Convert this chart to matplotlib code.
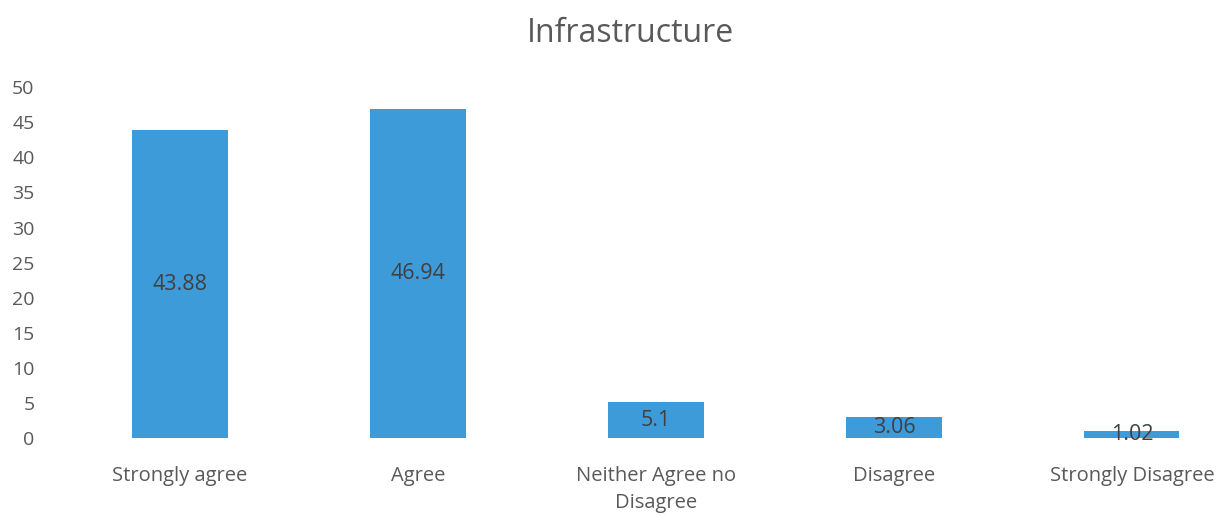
import matplotlib
matplotlib.use('Agg')
import matplotlib.pyplot as plt

# chart data
categories = ['Strongly agree', 'Agree', 'Neither Agree no\nDisagree', 'Disagree', 'Strongly Disagree']
values = [43.88, 46.94, 5.1, 3.06, 1.02]
value_labels = ['43.88', '46.94', '5.1', '3.06', '1.02']
y_ticks = [0, 5, 10, 15, 20, 25, 30, 35, 40, 45, 50]

plt.rcParams['font.family'] = ['Open Sans', 'DejaVu Sans']

fig = plt.figure(figsize=(12.19, 5.16), dpi=100)
ax = fig.add_axes([0.05, 0.151, 0.95, 0.68])

x = range(len(categories))
bars = ax.bar(x, values, width=0.4, color='#3E9BDA')

# value labels in the middle of each bar
for bar, lab in zip(bars, value_labels):
    ax.text(bar.get_x() + bar.get_width() / 2, bar.get_height() / 2, lab,
            ha='center', va='center', fontsize=15.5, color='#404040')

ax.set_xlim(-0.5, 4.366)
ax.set_ylim(0, 50)
ax.set_yticks(y_ticks)
ax.set_xticks(list(x))
ax.set_xticklabels(categories, fontsize=14.5, color='#595959', linespacing=1.45)
ax.tick_params(axis='y', labelsize=14, labelcolor='#595959', length=0, pad=19)
ax.tick_params(axis='x', length=0, pad=20)

for s in ax.spines.values():
    s.set_visible(False)

fig.text(0.517, 0.935, 'Infrastructure', ha='center', va='center', fontsize=23, color='#595959')

fig.savefig('out.png', dpi=100)
